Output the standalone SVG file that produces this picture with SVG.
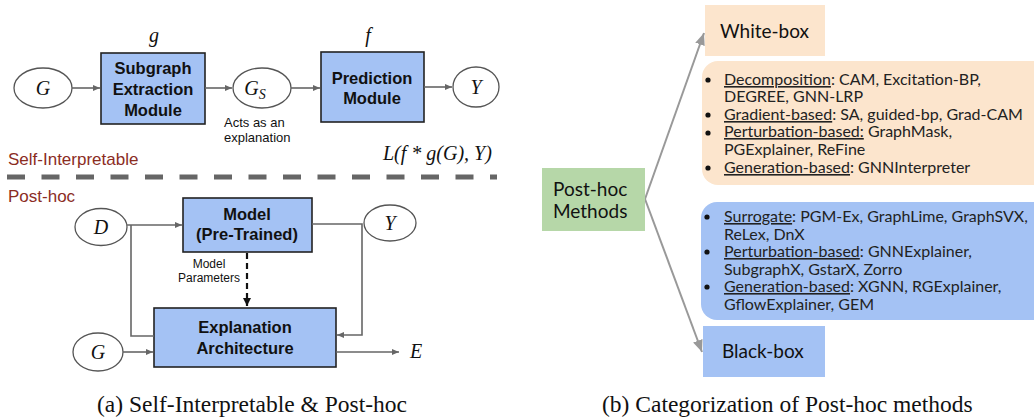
<svg xmlns="http://www.w3.org/2000/svg" width="1034" height="420" viewBox="0 0 1034 420">
<style>
.box{fill:#a4c2f4;stroke:#222;stroke-width:1.6}
.ell{fill:#fff;stroke:#555;stroke-width:1.3}
.bt{font-family:"Liberation Sans",Arial,sans-serif;font-weight:bold;font-size:16.5px;fill:#111;text-anchor:middle}
.mi{font-family:"Liberation Serif","Times New Roman",serif;font-style:italic;font-size:20px;fill:#111}
.sm{font-family:"Liberation Sans",Arial,sans-serif;font-size:13px;fill:#111}
.xs{font-family:"Liberation Sans",Arial,sans-serif;font-size:12px;fill:#111}
.red{font-family:"Liberation Sans",Arial,sans-serif;font-size:17px;fill:#8b2d1f}
.cap{font-family:"Liberation Serif","Times New Roman",serif;font-size:23.5px;fill:#111}
.con{fill:none;stroke:#666;stroke-width:1.6}
.rl{font-family:Lato,"Open Sans",sans-serif;font-size:16px;fill:#222}
.hd{font-family:Lato,"Open Sans",sans-serif;font-size:19px;fill:#111}
.u{text-decoration:underline}
.ga{fill:none;stroke:#999;stroke-width:2}
</style>
<defs>
<marker id="ah" markerWidth="8" markerHeight="8" refX="7" refY="4" orient="auto" markerUnits="userSpaceOnUse"><path d="M0,1 L7,4 L0,7 Z" fill="#666"/></marker>
<marker id="ahk" markerWidth="10" markerHeight="10" refX="8" refY="5" orient="auto" markerUnits="userSpaceOnUse"><path d="M0,1 L8,5 L0,9 Z" fill="#111"/></marker>
<marker id="ahg" markerWidth="14" markerHeight="14" refX="12" refY="7" orient="auto" markerUnits="userSpaceOnUse"><path d="M0,2 L12,7 L0,12 Z" fill="#999"/></marker>
</defs>

<!-- Self-interpretable part -->
<g id="n-G1"><ellipse class="ell" cx="43" cy="88" rx="29" ry="20"/><text class="mi" x="43" y="95" text-anchor="middle">G</text></g>
<g id="n-sub"><rect class="box" x="101" y="53" width="104" height="71"/><text class="bt" x="153" y="74">Subgraph</text><text class="bt" x="153" y="95">Extraction</text><text class="bt" x="153" y="116">Module</text><text class="mi" x="154" y="42" text-anchor="middle">g</text></g>
<g id="n-Gs"><ellipse class="ell" cx="262" cy="88" rx="29" ry="20"/><text class="mi" x="255" y="95" text-anchor="middle">G<tspan font-size="14" dy="4">S</tspan></text><text class="sm" x="224" y="127">Acts as an</text><text class="sm" x="224" y="142">explanation</text></g>
<g id="n-pred"><rect class="box" x="321" y="52" width="103" height="70"/><text class="bt" x="372" y="84">Prediction</text><text class="bt" x="372" y="104">Module</text><text class="mi" x="368" y="42" text-anchor="middle">f</text></g>
<g id="n-Y1"><ellipse class="ell" cx="476" cy="87" rx="23" ry="20"/><text class="mi" x="476" y="94" text-anchor="middle">Y</text></g>
<text class="red" x="8" y="165">Self-Interpretable</text>
<text class="mi" x="383" y="160" font-size="16.5">L(f * g(G), Y)</text>
<line x1="7" y1="177" x2="497" y2="177" stroke="#666" stroke-width="5" stroke-dasharray="18 16.5"/>
<text class="red" x="8" y="202">Post-hoc</text>

<!-- Post-hoc part -->
<g id="n-D"><ellipse class="ell" cx="101" cy="227" rx="26" ry="18.5"/><text class="mi" x="101" y="234" text-anchor="middle">D</text></g>
<g id="n-model"><rect class="box" x="183" y="198" width="129" height="54"/><text class="bt" x="247" y="220">Model</text><text class="bt" x="247" y="240">(Pre-Trained)</text></g>
<g id="n-Y2"><ellipse class="ell" cx="390" cy="223" rx="26" ry="18"/><text class="mi" x="390" y="230" text-anchor="middle">Y</text></g>
<g id="n-expl"><rect class="box" x="154" y="308" width="182" height="59"/><text class="bt" x="245" y="333">Explanation</text><text class="bt" x="245" y="354">Architecture</text></g>
<g id="n-G2"><ellipse class="ell" cx="98" cy="352" rx="25" ry="19"/><text class="mi" x="98" y="359" text-anchor="middle">G</text></g>
<g id="n-E"><text class="mi" x="410" y="358">E</text></g>
<g id="n-params"><text class="xs" x="209" y="268" text-anchor="middle">Model</text><text class="xs" x="240" y="282" text-anchor="end">Parameters</text></g>

<g id="connectors">
<line class="con" x1="72" y1="88" x2="100" y2="88" marker-end="url(#ah)"/>
<line class="con" x1="205" y1="88" x2="232" y2="88" marker-end="url(#ah)"/>
<line class="con" x1="291" y1="88" x2="320" y2="88" marker-end="url(#ah)"/>
<line class="con" x1="424" y1="87" x2="452" y2="87" marker-end="url(#ah)"/>
<line class="con" x1="127" y1="225" x2="182" y2="225" marker-end="url(#ah)"/>
<path class="con" d="M131,225 V336 H154"/>
<path class="con" d="M312,224 H362 V335 H337" marker-end="url(#ah)"/>
<line x1="247" y1="253" x2="247" y2="306" stroke="#111" stroke-width="2.2" stroke-dasharray="6 4" marker-end="url(#ahk)"/>
<line class="con" x1="123" y1="352" x2="153" y2="352" marker-end="url(#ah)"/>
<line class="con" x1="336" y1="352" x2="399" y2="352" marker-end="url(#ah)"/>
<line class="ga" x1="645" y1="199" x2="704" y2="33" marker-end="url(#ahg)"/>
<line class="ga" x1="645" y1="199" x2="702" y2="352" marker-end="url(#ahg)"/>
</g>
<text class="cap" x="97" y="412">(a) Self-Interpretable &amp; Post-hoc</text>

<!-- Right panel -->
<g id="n-posthoc"><rect x="542" y="168" width="103" height="63" fill="#b6d7a8"/><text class="hd" x="553" y="196">Post-hoc</text><text class="hd" x="553" y="218">Methods</text></g>
<g id="n-white"><rect x="705" y="5" width="120" height="51" fill="#fce5cd"/><text class="hd" x="720" y="38">White-box</text></g>
<g id="n-wlist"><rect x="702" y="61" width="350" height="124" rx="16" fill="#fce5cd"/>
<g fill="#111"><circle cx="708" cy="80" r="2.6"/><circle cx="708" cy="115" r="2.6"/><circle cx="708" cy="133" r="2.6"/><circle cx="708" cy="168" r="2.6"/></g>
<text class="rl" x="724" y="85"><tspan class="u">Decomposition</tspan>: CAM, Excitation-BP,</text>
<text class="rl" x="724" y="102">DEGREE, GNN-LRP</text>
<text class="rl" x="724" y="120"><tspan class="u">Gradient-based</tspan>: SA, guided-bp, Grad-CAM</text>
<text class="rl" x="724" y="137"><tspan class="u">Perturbation-based:</tspan> GraphMask,</text>
<text class="rl" x="724" y="155">PGExplainer, ReFine</text>
<text class="rl" x="724" y="173"><tspan class="u">Generation-based</tspan>: GNNInterpreter</text>
</g>
<g id="n-blist"><rect x="701" y="202" width="350" height="118" rx="16" fill="#a4c2f4"/>
<g fill="#111"><circle cx="707" cy="217" r="2.6"/><circle cx="707" cy="252" r="2.6"/><circle cx="707" cy="287" r="2.6"/></g>
<text class="rl" x="724" y="222"><tspan class="u">Surrogate</tspan>: PGM-Ex, GraphLime, GraphSVX,</text>
<text class="rl" x="724" y="240">ReLex, DnX</text>
<text class="rl" x="724" y="257"><tspan class="u">Perturbation-based</tspan>: GNNExplainer,</text>
<text class="rl" x="724" y="275">SubgraphX, GstarX, Zorro</text>
<text class="rl" x="724" y="292"><tspan class="u">Generation-based</tspan>: XGNN, RGExplainer,</text>
<text class="rl" x="724" y="310">GflowExplainer, GEM</text>
</g>
<g id="n-black"><rect x="703" y="326" width="122" height="51" fill="#a4c2f4"/><text class="hd" x="722" y="358">Black-box</text></g>
<text class="cap" x="602" y="412">(b) Categorization of Post-hoc methods</text>
</svg>
